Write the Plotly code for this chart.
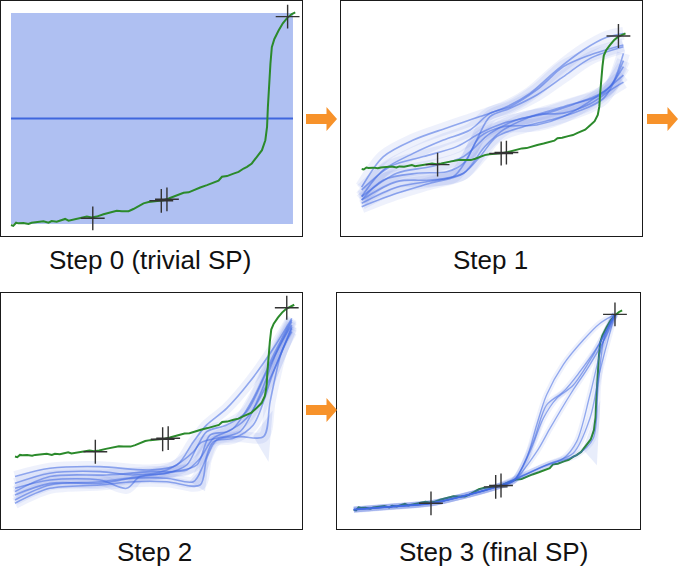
import plotly.graph_objects as go

W, H = 680, 570

# ---------------- data (shared green observed curve) ----------------
GREEN_X = [0, 0.8, 1.8, 2.6, 4.4, 6.2, 7.3, 9.1, 11.5, 13.3, 14.4, 16.2, 18.0, 19.2,
           20.4, 21.5, 23.3, 25.1, 26.9, 28.6, 30.4, 32.8, 35.1, 37.5, 39.3, 41.7,
           43.4, 45.2, 47.0, 48.8, 50.5, 52.3, 54.1, 55.9, 57.6, 59.4, 61.2, 63.0,
           64.7, 67.1, 69.5, 71.8, 73.6, 74.8, 76.6, 78.9, 80.7, 82.5, 83.7, 85.4,
           87.2, 89.0, 90.2, 90.8, 91.1, 91.5, 92.0, 92.5, 93.4, 94.9, 96.4, 97.9,
           99.6, 100.8]
GREEN_Y = [-0.5, -0.9, 0.6, 0.3, 0.5, 0.0, 0.6, 0.9, 1.3, 0.6, 1.4, 1.1, 1.9, 2.4,
           1.6, 1.9, 2.4, 3.1, 3.5, 3.1, 3.5, 4.6, 5.4, 6.3, 6.1, 6.1,
           7.1, 8.5, 9.8, 10.4, 10.6, 10.9, 11.3, 12.1, 12.9, 13.7, 14.8, 15.0,
           16.1, 17.3, 18.4, 19.5, 20.5, 22.4, 22.7, 23.9, 24.7, 26.3, 27.1, 28.7,
           31.8, 35.0, 39.7, 46.0, 55.4, 66.5, 75.9, 83.8, 87.7, 91.7, 95.1, 97.6,
           99.5, 100.3]

# sampled points (crosses)
SP_X = [29.0, 53.3, 55.3, 98.1]
SP_Y = [2.7, 11.0, 11.7, 98.3]

# ---------------- step 0: prior ----------------
PRIOR_X = [0, 100]
PRIOR_MEAN = [50, 50]
PRIOR_LO = [0, 0]
PRIOR_HI = [100, 100]

# ---------------- step 1 posterior samples ----------------
STEP1_X = [
    [0, 8.3, 19.7, 32.5, 45.2, 55.4, 64.3, 74.5, 84.7, 93.6, 100],
    [0, 8.3, 19.7, 31.2, 41.4, 49, 56.7, 66.9, 77.1, 87.3, 100],
    [0, 8.3, 21, 32.5, 38.9, 43.9, 49, 56.7, 66.9, 77.1, 87.3, 100],
    [0, 10.8, 23.6, 36.3, 45.2, 54.1, 64.3, 77.1, 87.3, 94.9, 100],
    [0, 13.4, 26.1, 38.9, 49, 59.2, 70.7, 82.2, 92.4, 100],
    [0, 13.4, 26.1, 35, 40.1, 45.2, 54.1, 66.9, 77.1, 89.8, 100],
    [0, 13.4, 28.7, 38.9, 45.2, 51.6, 61.8, 72, 82.2, 92.4, 100],
    [0, 13.4, 26.1, 38.9, 47, 54.1, 66.9, 77.1, 87.3, 95, 100],
]
STEP1_Y = [
    [-14, 8.7, 21, 30, 38.4, 45.8, 55.7, 73, 87.9, 97.3, 100.2],
    [-21, -1.2, 11.1, 21, 28.5, 40.8, 45.8, 58.2, 75.5, 84.2, 91.6],
    [-23.5, -8.7, -3.7, -2.5, 3.7, 21, 38.4, 44.6, 54.5, 68.1, 81.7, 90.3],
    [-16, 1.2, 8.7, 16.1, 26, 33.4, 38.4, 45.8, 52, 60.6, 85.4],
    [-21, -3.7, 1.2, 8.7, 26, 35.9, 40.8, 48.3, 55.7, 75.5],
    [-23.5, -9.9, -8.7, -6.2, 6.2, 23.5, 30.9, 32.2, 38.4, 53.2, 69.3],
    [-26, -14, -8.7, -3.7, 8.7, 23.5, 30.9, 35.9, 42, 52, 80],
    [-28.5, -18.6, -11.1, -3.7, 16, 28.5, 39.6, 41, 48, 58, 64],
]

# ---------------- step 2 posterior samples ----------------
STEP2_X = [
    [0, 12.6, 30.7, 48.7, 58.4, 64.4, 69.2, 76.4, 84.8, 93.3, 99.9],
    [0, 12.6, 30.7, 42.7, 54.8, 64.4, 69.2, 76.4, 83.6, 90.9, 99.9],
    [0, 12.6, 30.7, 40.3, 45.1, 54.8, 62.0, 66.8, 72.8, 81.2, 88.4, 94.5, 99.9],
    [0, 12.6, 30.7, 42.7, 54.8, 64.4, 68.0, 71.6, 78.8, 86.0, 93.3, 99.9],
    [0, 12.6, 30.7, 42.7, 54.8, 66.8, 69.2, 72.8, 81.2, 89.7, 92.1, 96.3, 99.9],
    [0, 12.6, 30.7, 45.1, 57.2, 65.6, 70.4, 76.4, 83.6, 92.1, 99.9],
    [0, 12.6, 33.1, 48.7, 62.0, 66.8, 71.6, 78.8, 86.0, 93.3, 99.9],
]
STEP2_Y = [
    [-13.8, -8.3, -7.2, -9.4, -6.1, 9.4, 20.5, 31.5, 49.3, 71.4, 91.3],
    [-18.3, -11.6, -10.5, -12.7, -9.4, 2.7, 16.0, 20.5, 29.3, 55.9, 89.1],
    [-21.6, -16.1, -16.1, -21.6, -13.8, -11.6, -6.1, 8.3, 11.6, 16.0, 40.4, 69.2, 86.9],
    [-26.0, -18.3, -18.3, -14.9, -14.9, -17.2, -6.1, 9.4, 11.6, 20.5, 55.9, 84.6],
    [-31.5, -21.6, -19.4, -17.2, -17.2, -19.4, -1.7, 10.5, 12.7, 12.7, 36.0, 69.2, 82.4],
    [-29.3, -19.4, -17.2, -13.8, -10.5, -6.1, 13.8, 16.0, 24.9, 51.5, 85.8],
    [-23.8, -13.8, -12.7, -10.5, -9.4, -1.7, 11.6, 18.3, 38.2, 66.9, 90.2],
]
STEP2_SPIKES_X = [[63.0, 68.6, 70.0], [86.0, 91.5, 93.0]]
STEP2_SPIKES_Y = [[-17.0, -23.5, -3.0], [13.0, -4.0, 30.0]]

# ---------------- step 3 posterior samples ----------------
STEP3_X = [
    [0, 16, 29, 41, 54, 60, 64.9, 68.7, 72.4, 78.7, 86.2, 92.4, 98.1],
    [0, 16, 29, 41, 54, 60, 66.2, 71.2, 76.2, 82.4, 89.9, 98.1],
    [0, 16, 29, 41, 54, 60, 67.4, 72.4, 78.7, 84.9, 91.1, 98.1],
    [0, 16, 29, 41, 54, 60, 68.7, 73.7, 81.2, 88.7, 95.0, 98.1],
    [0, 16, 29, 41, 54, 61.2, 71.2, 78.7, 83.7, 88.7, 93.7, 98.1],
    [0, 16, 29, 41, 54, 62.4, 73.7, 82.4, 88.7, 92.4, 98.1],
    [0, 16, 29, 41, 54, 61.2, 72.4, 83.7, 89.9, 91.8, 94.3, 98.1],
]
STEP3_Y = [
    [-0.5, 1.2, 2.7, 6.3, 11.2, 14.0, 25.4, 42.3, 57.5, 72.9, 85.3, 93.7, 98.3],
    [-0.6, 1.1, 2.6, 6.2, 11.1, 14.0, 28.8, 45.7, 55.8, 62.4, 77.7, 98.3],
    [-0.4, 1.3, 2.8, 6.4, 11.3, 14.1, 33.9, 52.4, 59.1, 69.3, 81.1, 98.3],
    [-0.5, 1.2, 2.7, 6.3, 11.2, 14.0, 28.8, 40.6, 57.5, 72.9, 87.9, 98.3],
    [-0.6, 1.0, 2.6, 6.2, 11.1, 15.3, 21.2, 25.4, 33.9, 57.5, 84.5, 98.3],
    [-0.4, 1.3, 2.8, 6.4, 11.3, 16.2, 22.9, 28.0, 45.7, 69.3, 98.3],
    [-0.5, 1.2, 2.7, 6.3, 11.2, 15.0, 22.1, 27.1, 35.5, 62.4, 87.9, 98.3],
]
STEP3_SPIKES_X = [[86.0, 91.3, 92.6]]
STEP3_SPIKES_Y = [[30.0, 22.0, 55.0]]

TITLES = ["Step 0 (trivial SP)", "Step 1", "Step 2", "Step 3 (final SP)"]

# ---------------- layout geometry (pixels) ----------------
BOXES = [(1, 302, 1, 236), (341, 642, 1, 236), (1, 302, 293, 529), (337, 640, 293, 529)]
XRANGES = [(-3.55, 103.2), (-7.9, 107.1), (-5.05, 103.6), (-6.3, 107.5)]
YRANGES = [(-5.69, 105.7), (-50.3, 124.3), (-48.6, 108.1), (-10.3, 109.1)]
TITLE_POS = [(150, 260), (490, 260), (154, 552), (493, 552)]
ARROWS = [(306, 119), (647, 119), (306, 410)]
BAND_WIDTHS = [0, 13, 11, 6]

GREEN = "#2b8a2b"
BLUE_LINE = "rgba(65,105,225,0.55)"
BLUE_BAND = "rgba(65,105,225,0.09)"
BLUE_SPIKE = "rgba(65,105,225,0.12)"

fig = go.Figure()


def ax(i):
    return ("x" if i == 0 else f"x{i+1}", "y" if i == 0 else f"y{i+1}")


def add_green(i):
    xa, ya = ax(i)
    fig.add_trace(go.Scatter(x=GREEN_X, y=GREEN_Y, mode="lines", xaxis=xa, yaxis=ya,
                             line=dict(color=GREEN, width=2), hoverinfo="skip"))


def add_points(i):
    xa, ya = ax(i)
    fig.add_trace(go.Scatter(x=SP_X, y=SP_Y, mode="markers", xaxis=xa, yaxis=ya,
                             marker=dict(symbol="cross-thin", size=17,
                                         line=dict(color="#333333", width=1.4)),
                             hoverinfo="skip"))


def add_samples(i, xs, ys, line_w=1.6):
    xa, ya = ax(i)
    for x, y in zip(xs, ys):
        fig.add_trace(go.Scatter(x=x, y=y, mode="lines", xaxis=xa, yaxis=ya,
                                 line=dict(color=BLUE_BAND, width=BAND_WIDTHS[i], shape="spline", smoothing=0.9),
                                 hoverinfo="skip"))
    for x, y in zip(xs, ys):
        fig.add_trace(go.Scatter(x=x, y=y, mode="lines", xaxis=xa, yaxis=ya,
                                 line=dict(color=BLUE_LINE, width=line_w, shape="spline", smoothing=0.9),
                                 hoverinfo="skip"))


def add_spikes(i, xs, ys):
    xa, ya = ax(i)
    for x, y in zip(xs, ys):
        fig.add_trace(go.Scatter(x=x, y=y, mode="lines", fill="toself", xaxis=xa, yaxis=ya,
                                 fillcolor=BLUE_SPIKE, line=dict(width=0), hoverinfo="skip"))


# step 0
fig.add_trace(go.Scatter(x=PRIOR_X, y=PRIOR_LO, mode="lines", line=dict(width=0),
                         xaxis="x", yaxis="y", hoverinfo="skip"))
fig.add_trace(go.Scatter(x=PRIOR_X, y=PRIOR_HI, mode="lines", line=dict(width=0),
                         fill="tonexty", fillcolor="rgba(65,105,225,0.42)",
                         xaxis="x", yaxis="y", hoverinfo="skip"))
fig.add_trace(go.Scatter(x=PRIOR_X, y=PRIOR_MEAN, mode="lines", line=dict(color="#3f66dd", width=2),
                         xaxis="x", yaxis="y", hoverinfo="skip"))
add_green(0)
add_points(0)

# step 1
add_samples(1, STEP1_X, STEP1_Y)
add_green(1)
add_points(1)

# step 2
add_spikes(2, STEP2_SPIKES_X, STEP2_SPIKES_Y)
add_samples(2, STEP2_X, STEP2_Y)
add_green(2)
add_points(2)

# step 3
add_spikes(3, STEP3_SPIKES_X, STEP3_SPIKES_Y)
add_green(3)
add_samples(3, STEP3_X, STEP3_Y, line_w=1.3)
add_points(3)

layout = dict(width=W, height=H, margin=dict(l=0, r=0, t=0, b=0),
              paper_bgcolor="white", plot_bgcolor="white", showlegend=False)

for i, (x0, x1, y0, y1) in enumerate(BOXES):
    xname = "xaxis" if i == 0 else f"xaxis{i+1}"
    yname = "yaxis" if i == 0 else f"yaxis{i+1}"
    xa, ya = ax(i)
    common = dict(showgrid=False, zeroline=False, showticklabels=False, ticks="",
                  showline=True, mirror=True, linecolor="#1a1a1a", linewidth=1.3,
                  fixedrange=True)
    layout[xname] = dict(domain=[x0 / W, x1 / W], range=list(XRANGES[i]), anchor=ya, **common)
    layout[yname] = dict(domain=[1 - y1 / H, 1 - y0 / H], range=list(YRANGES[i]), anchor=xa, **common)

fig.update_layout(**layout)

for (cx, cy), t in zip(TITLE_POS, TITLES):
    fig.add_annotation(x=cx / W, y=1 - cy / H, xref="paper", yref="paper", text=t,
                       showarrow=False, xanchor="center", yanchor="middle",
                       font=dict(family="Liberation Sans, Arial, sans-serif", size=26, color="#111111"))


def arrow_path(lx, cy):
    shaft_len, shaft_h, head_len, head_h = 20.5, 5.0, 10.5, 12.0
    pts = [(lx, cy - shaft_h), (lx + shaft_len, cy - shaft_h), (lx + shaft_len, cy - head_h),
           (lx + shaft_len + head_len, cy), (lx + shaft_len, cy + head_h),
           (lx + shaft_len, cy + shaft_h), (lx, cy + shaft_h)]
    d = "M " + " L ".join(f"{px / W:.5f},{1 - py / H:.5f}" for px, py in pts) + " Z"
    return d


for lx, cy in ARROWS:
    fig.add_shape(type="path", path=arrow_path(lx, cy), xref="paper", yref="paper",
                  fillcolor="#f7922a", line=dict(width=0), layer="above")

fig.write_html("out.html", config={"displayModeBar": False},
               post_script="document.body.style.margin='0';document.body.style.overflow='hidden';")
